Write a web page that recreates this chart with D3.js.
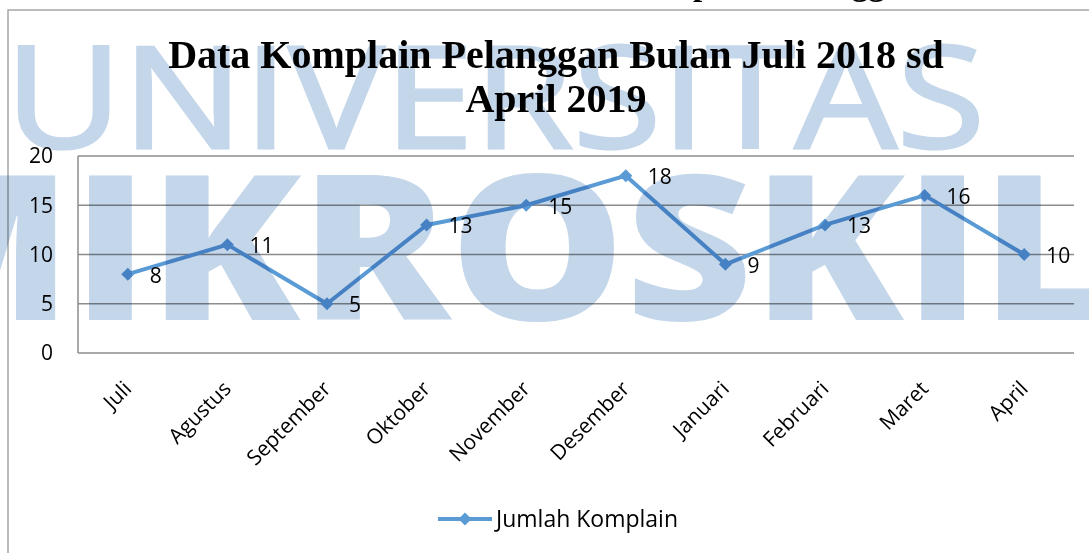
<!DOCTYPE html>
<html>
<head>
<meta charset="utf-8">
<script src="https://d3js.org/d3.v7.min.js"></script>
<style>
  body { margin: 0; background: #fff; }
  .grid line { stroke: #8c8c8c; stroke-width: 1.5px; }
  .tick-label, .data-label, .legend-label { font-family: "Open Sans", sans-serif; font-size: 21px; fill: #000; }
  .title { font-family: "Liberation Serif", "Times New Roman", serif; font-weight: bold; font-size: 40px; fill: #000; }
  .watermark { mix-blend-mode: multiply; fill: rgb(196, 214, 234); }
</style>
</head>
<body>
<svg id="chart" width="1089" height="553"></svg>
<script>
// data
const months = ["Juli", "Agustus", "September", "Oktober", "November", "Desember", "Januari", "Februari", "Maret", "April"];
const complaints = [8, 11, 5, 13, 15, 18, 9, 13, 16, 10];
const yTicks = [0, 5, 10, 15, 20];
const titleLines = ["Data Komplain Pelanggan Bulan Juli 2018 sd", "April 2019"];
const seriesName = "Jumlah Komplain";
const watermarkLines = ["UNIVERSITAS", "MIKROSKIL"];

const svg = d3.select("#chart");
const lineColor = "#5b9bd5";

svg.append("rect").attr("width", 1089).attr("height", 553).attr("fill", "#fff");

// clipped line of the document text above the chart
const docText = svg.append("text")
    .attr("class", "title")
    .attr("x", 0).attr("y", -5)
    .style("font-size", "33px")
    .text("Data Komplain Pelanggan");
const pPos = docText.node().getStartPositionOfChar(8).x;
docText.attr("x", 693 - pPos);

// chart frame
svg.append("rect")
    .attr("x", 8).attr("y", 10)
    .attr("width", 1200).attr("height", 700)
    .attr("fill", "none")
    .attr("stroke", "#a6a6a6")
    .attr("stroke-width", 1.5);

const plot = {left: 78, right: 1074, top: 156, bottom: 353};

const x = d3.scalePoint()
    .domain(months)
    .range([plot.left, plot.right])
    .padding(0.5);

const y = d3.scaleLinear()
    .domain([0, 20])
    .range([plot.bottom, plot.top]);

// horizontal gridlines
svg.append("g").attr("class", "grid")
   .selectAll("line").data(yTicks)
   .join("line")
   .attr("x1", plot.left).attr("x2", plot.right)
   .attr("y1", d => y(d)).attr("y2", d => y(d));

// vertical axis line
svg.append("line")
   .attr("x1", plot.left).attr("x2", plot.left)
   .attr("y1", plot.top).attr("y2", plot.bottom)
   .attr("stroke", "#8c8c8c").attr("stroke-width", 1.5);

// y tick labels
svg.append("g").selectAll("text").data(yTicks)
   .join("text")
   .attr("class", "tick-label")
   .attr("x", 53).attr("y", d => y(d))
   .attr("dy", "0.35em")
   .attr("text-anchor", "end")
   .text(d => d);

// x tick labels, rotated
svg.append("g").selectAll("text").data(months)
   .join("text")
   .attr("class", "tick-label")
   .attr("text-anchor", "end")
   .attr("transform", d => `translate(${x(d) + 5}, 390) rotate(-45)`)
   .text(d => d);

// series line
const line = d3.line()
    .x((d, i) => x(months[i]))
    .y(d => y(d));

svg.append("path")
   .datum(complaints)
   .attr("d", line)
   .attr("fill", "none")
   .attr("stroke", lineColor)
   .attr("stroke-width", 4)
   .attr("stroke-linejoin", "round");

const diamond = d3.symbol().type(d3.symbolSquare).size(85);

svg.append("g").selectAll("path").data(complaints)
   .join("path")
   .attr("d", diamond)
   .attr("fill", lineColor)
   .attr("transform", (d, i) => `translate(${x(months[i])}, ${y(d)}) rotate(45)`);

// data labels
svg.append("g").selectAll("text").data(complaints)
   .join("text")
   .attr("class", "data-label")
   .attr("x", (d, i) => x(months[i]) + 22)
   .attr("y", d => y(d) + 1)
   .attr("dy", "0.35em")
   .text(d => d);

// title
svg.append("g").selectAll("text").data(titleLines)
   .join("text")
   .attr("class", "title")
   .attr("x", 556)
   .attr("y", (d, i) => 68 + i * 44)
   .attr("text-anchor", "middle")
   .text(d => d);

// legend
const legend = svg.append("g").attr("transform", "translate(438, 519)");
legend.append("line")
      .attr("x1", 0).attr("x2", 54)
      .attr("stroke", lineColor).attr("stroke-width", 4);
legend.append("path")
      .attr("d", diamond)
      .attr("fill", lineColor)
      .attr("transform", "translate(27, 0) rotate(45)");
legend.append("text")
      .attr("class", "legend-label")
      .attr("x", 58).attr("dy", "0.35em")
      .style("font-size", "23px")
      .text(seriesName);

// watermark on top, multiplied
const wm = svg.append("g").attr("class", "watermark");

const w1 = wm.append("text")
    .attr("x", 0).attr("y", 148)
    .style("font-family", "'Open Sans', sans-serif")
    .style("font-size", "142px")
    .attr("stroke", "rgb(196, 214, 234)")
    .attr("stroke-width", 3)
    .text(watermarkLines[0]);
const w1len = w1.node().getComputedTextLength();
const s1 = (985 - 5) / w1len;
w1.attr("transform", `translate(5,0) scale(${s1},1)`);

const w2 = wm.append("text")
    .attr("x", 0).attr("y", 320)
    .style("font-family", "'Open Sans', sans-serif")
    .style("font-weight", 800)
    .style("font-size", "203px")
    .text(watermarkLines[1]);
const p1 = w2.node().getStartPositionOfChar(1).x;
const p8 = w2.node().getStartPositionOfChar(8).x;
const s2 = (981 - 72) / (p8 - p1);
w2.attr("transform", `translate(${72 - s2 * p1},0) scale(${s2},1)`);
</script>
</body>
</html>
